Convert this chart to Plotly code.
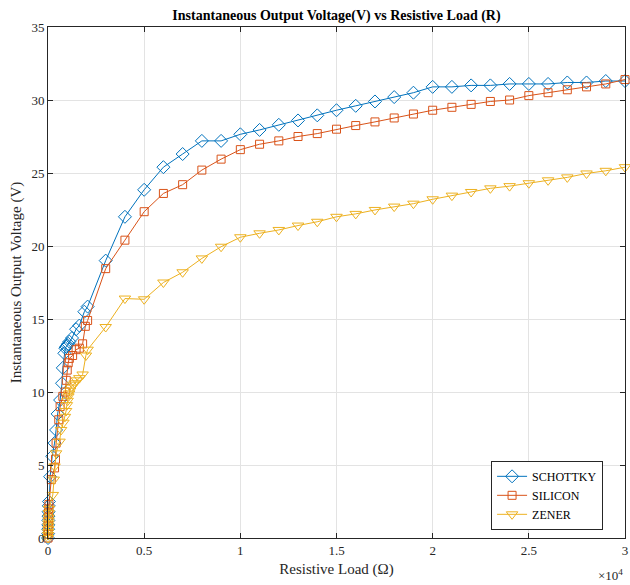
import plotly.graph_objects as go

# ---- data ----
high_r = [3000, 4000, 5000, 6000, 7000, 8000, 9000, 10000, 11000, 12000, 13000, 14000,
          15000, 16000, 17000, 18000, 19000, 20000, 21000, 22000, 23000, 24000, 25000,
          26000, 27000, 28000, 29000, 30000]

schottky_r = [0, 5, 10, 15, 20, 25, 30, 40, 50, 110, 220, 340, 420, 500, 630, 730, 770,
              850, 900, 950, 1000, 1050, 1110, 1250, 1460, 1630, 1890, 2060] + high_r
schottky_v = [0, 0.3, 0.6, 0.9, 1.2, 1.5, 1.8, 2.2, 2.5, 4.2, 5.6, 6.5, 7.4, 8.5, 9.45,
              10.6, 11.65, 12.65, 13.0, 13.1, 13.2, 13.3, 13.45, 13.7, 14.3, 14.55, 15.5,
              15.85,
              19.0, 22.0, 23.85, 25.4, 26.3, 27.2, 27.2, 27.65, 27.95, 28.3, 28.6, 28.95,
              29.3, 29.6, 29.9, 30.2, 30.5, 30.9, 30.9, 31.0, 31.0, 31.1, 31.1, 31.1,
              31.2, 31.2, 31.3, 31.3]

silicon_r = [0, 5, 10, 15, 20, 25, 30, 40, 50, 170, 340, 390, 420, 560, 630, 770, 900,
             950, 1000, 1050, 1110, 1280, 1460, 1630, 1800, 1940, 2060] + high_r
silicon_v = [0, 0.25, 0.5, 0.8, 1.1, 1.4, 1.7, 2.0, 2.3, 4.0, 4.8, 5.4, 6.5, 8.1, 9.0,
             9.7, 10.0, 10.8, 11.5, 12.0, 12.3, 12.5, 12.9, 13.0, 13.3, 14.5, 14.9,
             18.45, 20.4, 22.35, 23.6, 24.2, 25.2, 25.95, 26.6, 26.97, 27.2, 27.5, 27.7,
             28.0, 28.25, 28.5, 28.77, 29.04, 29.3, 29.5, 29.7, 29.9, 30.0, 30.3, 30.5,
             30.7, 30.9, 31.1, 31.4]

zener_r = [0, 5, 10, 15, 20, 25, 30, 35, 40, 50, 250, 300, 340, 420, 600, 680, 800, 880,
           940, 980, 1020, 1060, 1100, 1150, 1200, 1300, 1400, 1500, 1630, 1800, 1970,
           2060] + high_r
zener_v = [0, 0.2, 0.4, 0.6, 0.8, 1.0, 1.2, 1.4, 1.7, 2.0, 2.95, 4.0, 4.9, 5.8, 6.6, 7.4,
           7.9, 8.3, 8.7, 9.1, 9.4, 9.7, 9.9, 10.1, 10.3, 10.5, 10.6, 10.8, 10.95, 11.2,
           12.5, 12.9,
           14.45, 16.4, 16.35, 17.5, 18.2, 19.15, 19.95, 20.6, 20.87, 21.1, 21.4, 21.66,
           22.0, 22.2, 22.47, 22.7, 22.9, 23.2, 23.45, 23.7, 23.95, 24.1, 24.3, 24.5,
           24.7, 24.97, 25.15, 25.4]

x_tick_vals = [0, 5000, 10000, 15000, 20000, 25000, 30000]
x_tick_text = ["0", "0.5", "1", "1.5", "2", "2.5", "3"]
y_tick_vals = [0, 5, 10, 15, 20, 25, 30, 35]

series = [
    ("SCHOTTKY", schottky_r, schottky_v, "#0072BD", "diamond-open", 10),
    ("SILICON", silicon_r, silicon_v, "#D95319", "square-open", 8),
    ("ZENER", zener_r, zener_v, "#EDB120", "triangle-down-open", 10),
]

FONT = "Liberation Serif, Times New Roman, serif"
AX = "#262626"

fig = go.Figure()
for name, xs, ys, col, sym, sz in series:
    fig.add_trace(go.Scatter(
        x=xs, y=ys, name=name, mode="lines+markers",
        line=dict(color=col, width=1),
        marker=dict(symbol=sym, size=sz, color=col, line=dict(color=col, width=1)),
        cliponaxis=False,
    ))

axis_common = dict(
    showline=True, linecolor=AX, linewidth=1, mirror="ticks",
    ticks="inside", ticklen=5, tickcolor=AX,
    showgrid=True, gridcolor="#e3e3e3", gridwidth=1,
    zeroline=False, tickfont=dict(family=FONT, size=13, color=AX),
    ticklabeloverflow="allow",
)

fig.update_layout(
    width=630, height=585,
    margin=dict(l=48, r=2, t=27, b=47),
    paper_bgcolor="white", plot_bgcolor="white",
    font=dict(family=FONT, color=AX),
    title=dict(text="<b>Instantaneous Output Voltage(V) vs Resistive Load (R)</b>",
               font=dict(family=FONT, size=14, color="black"),
               x=0.5, xref="paper", xanchor="center",
               y=1 - 15 / 585, yref="container", yanchor="middle"),
    xaxis=dict(range=[0, 30000], tickvals=x_tick_vals, ticktext=x_tick_text,
               title=dict(text="Resistive Load (Ω)", font=dict(family=FONT, size=15, color=AX),
                          standoff=6),
               **axis_common),
    yaxis=dict(range=[0, 35], tickvals=y_tick_vals,
               title=dict(text="Instantaneous Output Voltage (V)",
                          font=dict(family=FONT, size=15, color=AX), standoff=6),
               **axis_common),
    legend=dict(x=0.962, xanchor="right", y=0.016, yanchor="bottom",
                bgcolor="white", bordercolor=AX, borderwidth=1,
                font=dict(family=FONT, size=12, color="black"),
                tracegroupgap=0, itemwidth=30),
    showlegend=True,
)

fig.add_annotation(text="×10<sup>4</sup>", xref="paper", yref="paper",
                   x=1.0, y=0, xanchor="right", yanchor="top", yshift=-27,
                   showarrow=False, font=dict(family=FONT, size=13, color=AX))

fig.write_html("out.html", config={"displayModeBar": False},
               post_script="document.body.style.margin='0';document.body.style.overflow='hidden';")
